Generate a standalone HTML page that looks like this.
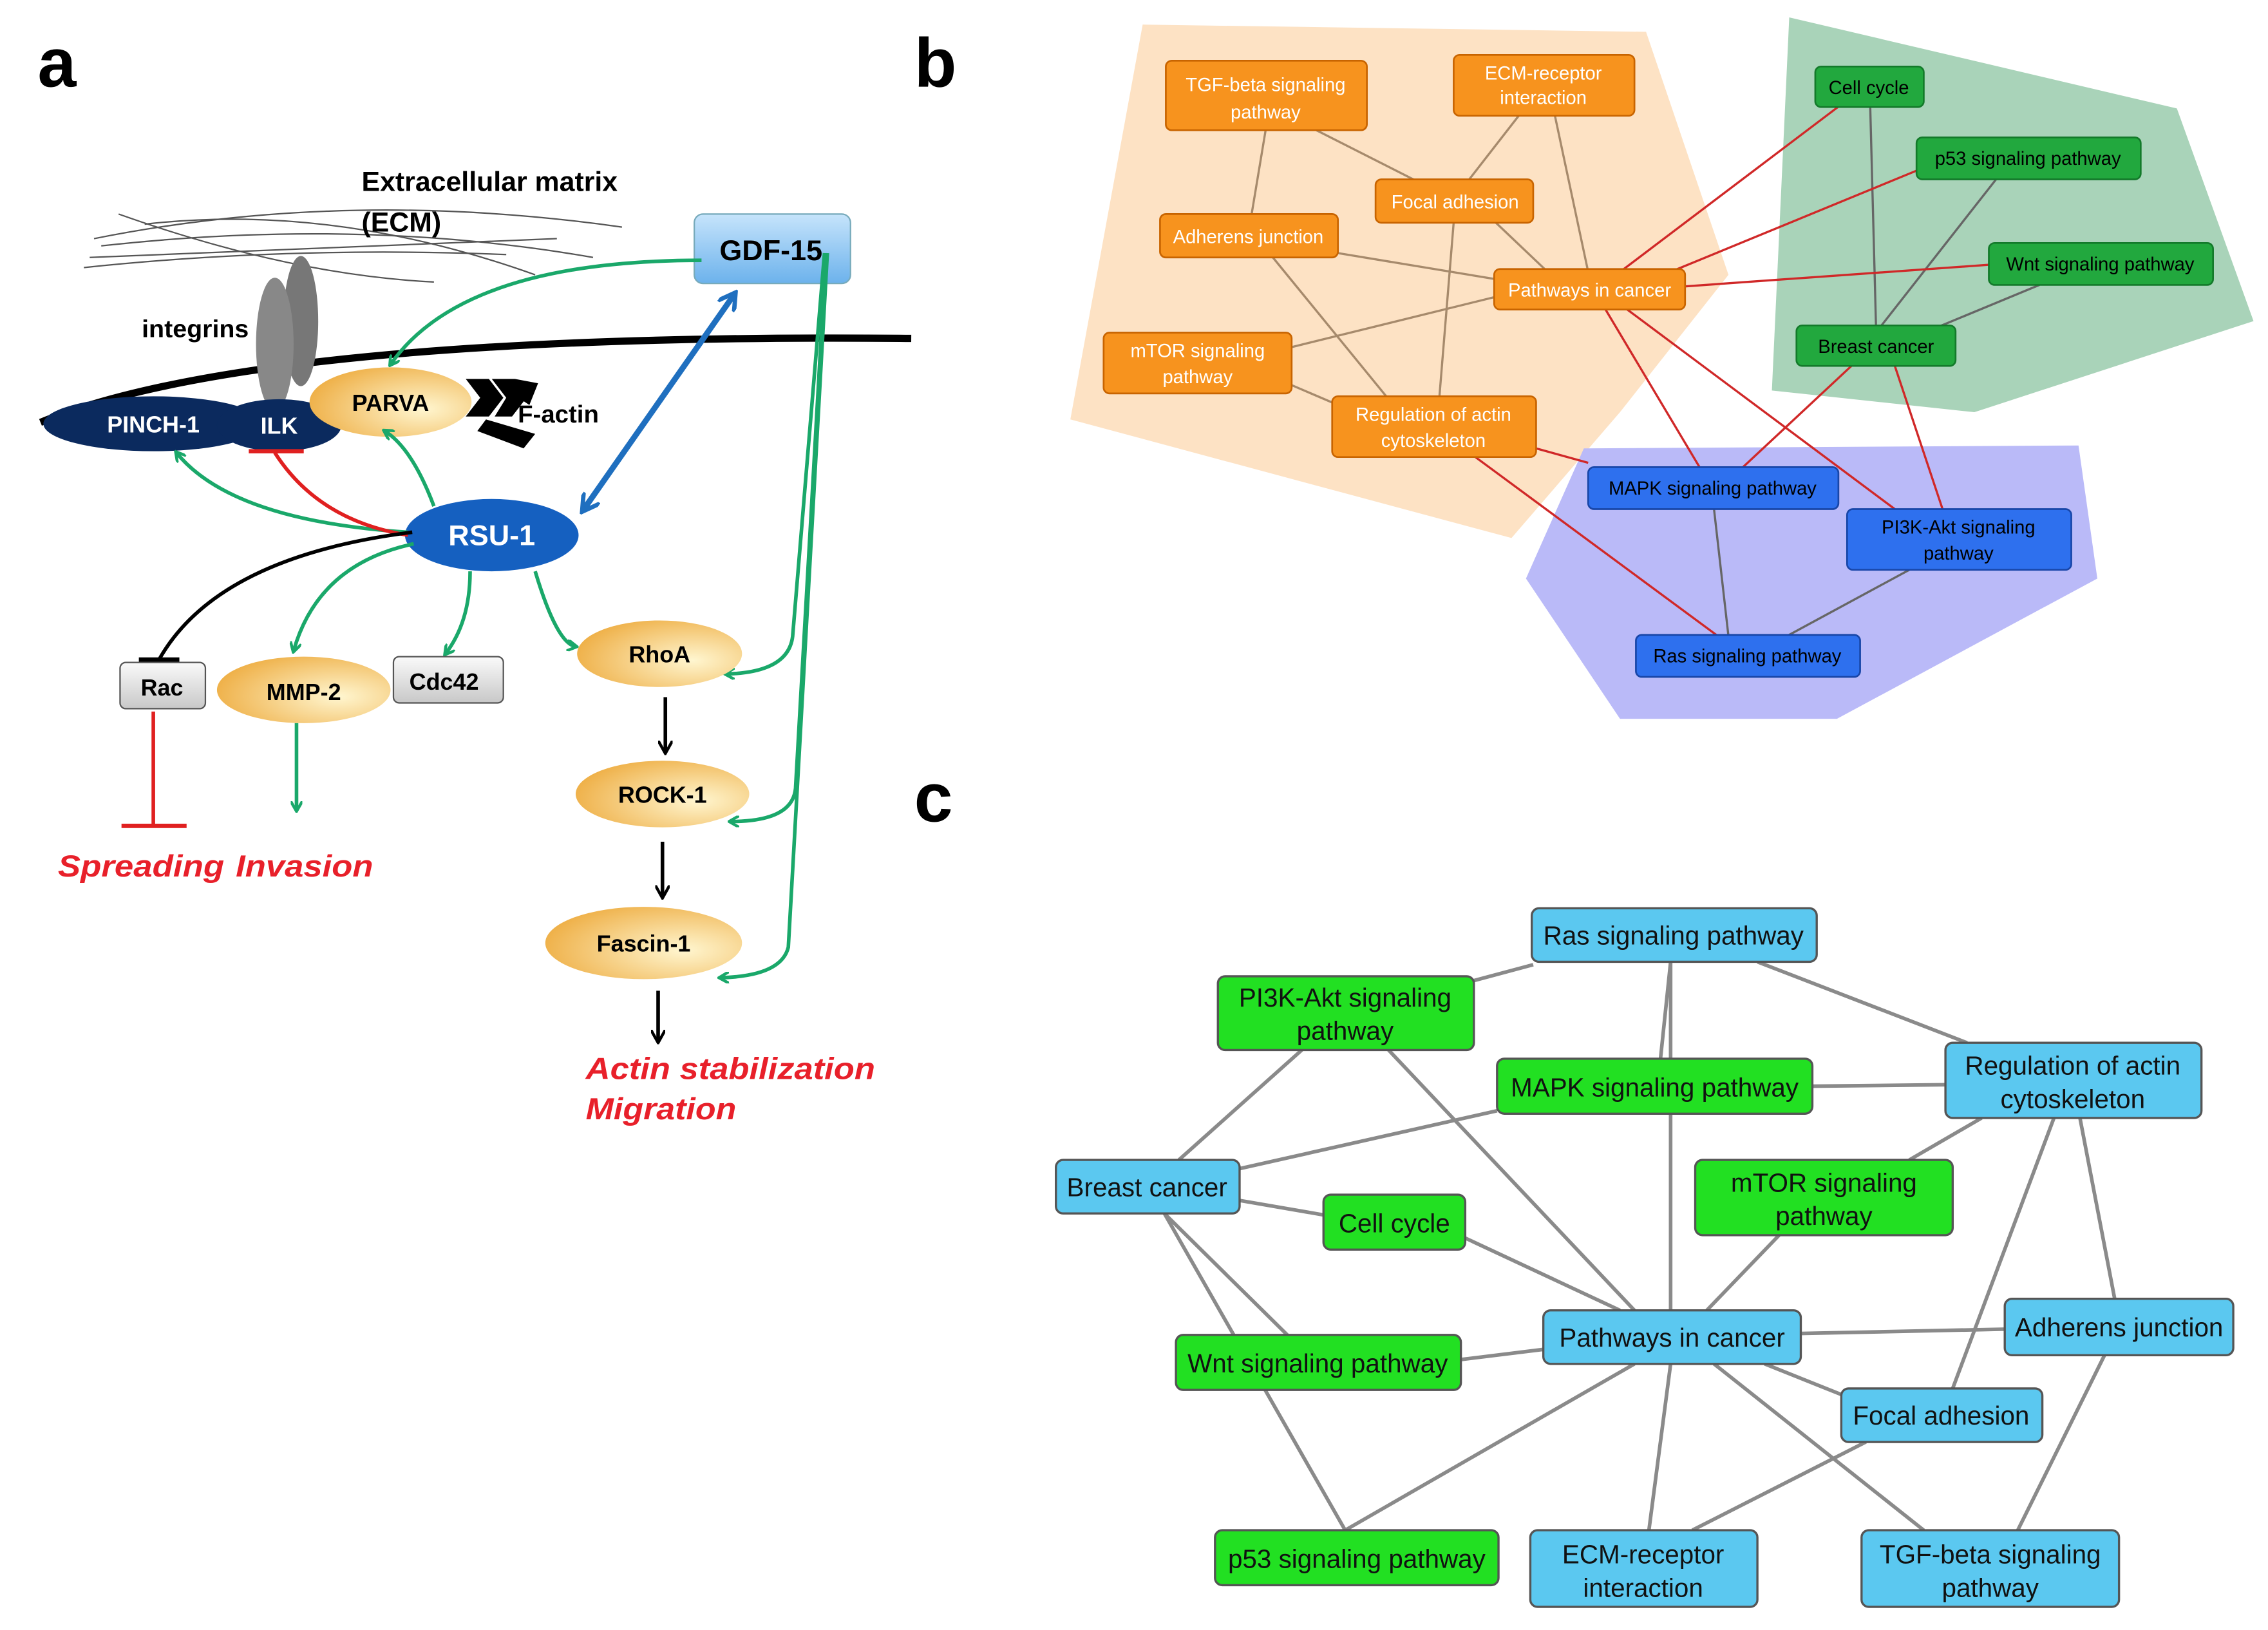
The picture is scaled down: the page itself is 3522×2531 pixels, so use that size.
<!DOCTYPE html>
<html><head><meta charset="utf-8"><style>
html,body{margin:0;padding:0;background:#fff;}
svg{display:block;}
text{font-family:"Liberation Sans",sans-serif;}
</style></head><body>
<svg width="3522" height="2531" viewBox="0 0 1568 1127" preserveAspectRatio="none" xmlns="http://www.w3.org/2000/svg">
<defs>
<marker id="ga" markerWidth="8" markerHeight="8" refX="6" refY="4" orient="auto" markerUnits="userSpaceOnUse"><path d="M0,0 L7,4 L0,8" fill="none" stroke="#1aa86a" stroke-width="2"/></marker>
<marker id="ka" markerWidth="10" markerHeight="10" refX="8" refY="5" orient="auto" markerUnits="userSpaceOnUse"><path d="M0,0 L9,5 L0,10" fill="none" stroke="#000" stroke-width="2"/></marker>
<marker id="ba" markerWidth="14" markerHeight="14" refX="11" refY="7" orient="auto-start-reverse" markerUnits="userSpaceOnUse"><path d="M0,0 L12,7 L0,14" fill="none" stroke="#1f6fbf" stroke-width="3"/></marker>
<radialGradient id="og" cx="0.7" cy="0.6" r="0.8"><stop offset="0" stop-color="#fff6d0"/><stop offset="1" stop-color="#eda93a"/></radialGradient>
<linearGradient id="gb" x1="0" y1="0" x2="0" y2="1"><stop offset="0" stop-color="#c6e4fb"/><stop offset="1" stop-color="#6cb2ec"/></linearGradient>
<linearGradient id="gg" x1="0" y1="0" x2="0" y2="1"><stop offset="0" stop-color="#fafafa"/><stop offset="1" stop-color="#c8c8c8"/></linearGradient>
</defs>

<!-- PANEL A -->
<text x="26" y="60" font-size="48" font-weight="bold">a</text>
<g stroke="#555" stroke-width="1" fill="none">
<path d="M65,165 Q240,130 430,157"/><path d="M70,170 Q250,150 410,178"/><path d="M58,185 Q200,170 350,176"/>
<path d="M82,148 Q200,190 300,195"/><path d="M100,155 Q230,140 370,190"/><path d="M62,178 L385,165"/>
</g>
<text x="250" y="132" font-size="19" font-weight="bold" textLength="177" lengthAdjust="spacingAndGlyphs">Extracellular matrix</text>
<text x="250" y="160" font-size="19" font-weight="bold" textLength="55" lengthAdjust="spacingAndGlyphs">(ECM)</text>
<path d="M28,292 Q180,230 630,234" fill="none" stroke="#000" stroke-width="5"/>
<ellipse cx="208" cy="222" rx="12" ry="45" fill="#777"/>
<ellipse cx="190" cy="238" rx="13" ry="46" fill="#888"/>
<text x="98" y="233" font-size="17" font-weight="bold" textLength="74" lengthAdjust="spacingAndGlyphs">integrins</text>
<ellipse cx="106" cy="293" rx="76" ry="19" fill="#0b2a5e"/>
<ellipse cx="193" cy="294" rx="43" ry="18" fill="#0b2a5e"/>
<text x="106" y="299" font-size="16" font-weight="bold" fill="#fff" text-anchor="middle">PINCH-1</text>
<text x="193" y="300" font-size="16" font-weight="bold" fill="#fff" text-anchor="middle">ILK</text>
<ellipse cx="270" cy="278" rx="56" ry="24" fill="url(#og)"/>
<text x="270" y="284" font-size="16" font-weight="bold" text-anchor="middle">PARVA</text>
<g fill="#000"><path d="M322,262 L338,262 L348,275 L338,288 L322,288 L332,275Z"/><path d="M340,262 L356,262 L364,275 L354,288 L342,288 L350,275Z"/><path d="M356,262 L372,265 L366,280 L360,276Z"/><path d="M336,290 L370,300 L362,310 L330,298Z"/></g>
<text x="358" y="292" font-size="17" font-weight="bold" textLength="56" lengthAdjust="spacingAndGlyphs">F-actin</text>
<rect x="480" y="148" width="108" height="48" rx="6" fill="url(#gb)" stroke="#7ab" stroke-width="1"/>
<text x="533" y="180" font-size="20" font-weight="bold" text-anchor="middle">GDF-15</text>
<ellipse cx="340" cy="370" rx="60" ry="25" fill="#1560c0"/>
<text x="340" y="377" font-size="20" font-weight="bold" fill="#fff" text-anchor="middle">RSU-1</text>
<line x1="508" y1="203" x2="403" y2="353" stroke="#1f6fbf" stroke-width="4" marker-start="url(#ba)" marker-end="url(#ba)"/>
<g fill="none" stroke="#1aa86a" stroke-width="2.5" marker-end="url(#ga)">
<path d="M485,180 Q320,180 270,252"/>
<path d="M570,175 L548,440 Q545,465 502,466"/>
<path d="M571,175 L550,545 Q548,568 505,568"/>
<path d="M572,175 L545,655 Q540,675 498,676"/>
<path d="M282,368 Q160,360 122,313"/>
<path d="M300,350 Q285,310 266,298"/>
<path d="M286,376 Q220,390 203,450"/>
<path d="M325,395 Q325,430 308,452"/>
<path d="M370,395 Q385,445 398,447"/>
<path d="M205,500 L205,560"/>
</g>
<path d="M282,370 Q220,360 190,313" fill="none" stroke="#e02020" stroke-width="2.5"/>
<line x1="172" y1="312" x2="210" y2="312" stroke="#e02020" stroke-width="3"/>
<path d="M285,368 Q150,385 110,456" fill="none" stroke="#000" stroke-width="2.5"/>
<line x1="96" y1="456" x2="124" y2="456" stroke="#000" stroke-width="3"/>
<rect x="83" y="458" width="59" height="32" rx="4" fill="url(#gg)" stroke="#555"/>
<text x="112" y="481" font-size="16" font-weight="bold" text-anchor="middle">Rac</text>
<ellipse cx="210" cy="477" rx="60" ry="23" fill="url(#og)"/>
<text x="210" y="484" font-size="16" font-weight="bold" text-anchor="middle">MMP-2</text>
<rect x="272" y="454" width="76" height="32" rx="4" fill="url(#gg)" stroke="#555"/>
<text x="307" y="477" font-size="16" font-weight="bold" text-anchor="middle">Cdc42</text>
<line x1="106" y1="492" x2="106" y2="570" stroke="#e02020" stroke-width="2.5"/>
<line x1="84" y1="571" x2="129" y2="571" stroke="#e02020" stroke-width="3"/>
<ellipse cx="456" cy="452" rx="57" ry="23" fill="url(#og)"/>
<text x="456" y="458" font-size="16" font-weight="bold" text-anchor="middle">RhoA</text>
<ellipse cx="458" cy="549" rx="60" ry="23" fill="url(#og)"/>
<text x="458" y="555" font-size="16" font-weight="bold" text-anchor="middle">ROCK-1</text>
<ellipse cx="445" cy="652" rx="68" ry="25" fill="url(#og)"/>
<text x="445" y="658" font-size="16" font-weight="bold" text-anchor="middle">Fascin-1</text>
<g stroke="#000" stroke-width="2.5" marker-end="url(#ka)"><line x1="460" y1="482" x2="460" y2="520"/><line x1="458" y1="582" x2="458" y2="620"/><line x1="455" y1="685" x2="455" y2="720"/></g>
<g font-size="21" font-weight="bold" font-style="italic" fill="#e8202a">
<text x="40" y="606" textLength="115" lengthAdjust="spacingAndGlyphs">Spreading</text>
<text x="163" y="606" textLength="95" lengthAdjust="spacingAndGlyphs">Invasion</text>
<text x="405" y="746" textLength="200" lengthAdjust="spacingAndGlyphs">Actin stabilization</text>
<text x="405" y="774" textLength="104" lengthAdjust="spacingAndGlyphs">Migration</text>
</g>

<!-- PANEL B -->
<text x="632" y="60" font-size="48" font-weight="bold">b</text>
<polygon points="790,17 1138,22 1195,190 1120,285 1045,372 740,290" fill="#fde2c4"/>
<polygon points="1237,12 1505,75 1558,222 1365,285 1225,270" fill="#a9d3b9"/>
<polygon points="1095,310 1437,308 1450,400 1270,497 1120,497 1055,400" fill="#babaf8"/>
<g stroke="#a68a6c" stroke-width="1.5">
<line x1="875" y1="90" x2="865" y2="150"/><line x1="910" y1="90" x2="985" y2="128"/><line x1="1050" y1="80" x2="1015" y2="125"/>
<line x1="1075" y1="80" x2="1098" y2="188"/><line x1="1030" y1="150" x2="1070" y2="188"/><line x1="1005" y1="154" x2="995" y2="276"/>
<line x1="925" y1="175" x2="1040" y2="194"/><line x1="880" y1="178" x2="960" y2="276"/><line x1="893" y1="240" x2="1035" y2="205"/><line x1="890" y1="265" x2="925" y2="280"/>
</g>
<g stroke="#666" stroke-width="1.5"><line x1="1293" y1="74" x2="1297" y2="226"/><line x1="1380" y1="124" x2="1300" y2="226"/><line x1="1410" y1="197" x2="1340" y2="226"/>
<line x1="1185" y1="352" x2="1195" y2="440"/><line x1="1320" y1="394" x2="1235" y2="440"/></g>
<g stroke="#d02828" stroke-width="1.5">
<line x1="1120" y1="188" x2="1272" y2="73"/><line x1="1150" y1="190" x2="1325" y2="118"/><line x1="1165" y1="198" x2="1376" y2="183"/>
<line x1="1110" y1="214" x2="1175" y2="323"/><line x1="1125" y1="214" x2="1310" y2="352"/><line x1="1280" y1="253" x2="1205" y2="323"/><line x1="1310" y1="253" x2="1343" y2="352"/>
<line x1="1062" y1="310" x2="1098" y2="320"/><line x1="1020" y1="316" x2="1188" y2="440"/>
</g>
<g stroke="#c86400" stroke-width="1.2" fill="#f7931e">
<rect x="806" y="42" width="139" height="48" rx="4"/><rect x="1005" y="38" width="125" height="42" rx="4"/><rect x="951" y="124" width="109" height="30" rx="4"/>
<rect x="802" y="148" width="123" height="30" rx="4"/><rect x="1033" y="186" width="132" height="28" rx="4"/><rect x="763" y="230" width="130" height="42" rx="4"/><rect x="921" y="274" width="141" height="42" rx="4"/>
</g>
<g stroke="#137a2a" stroke-width="1.2" fill="#22a83e">
<rect x="1255" y="46" width="75" height="28" rx="4"/><rect x="1325" y="95" width="155" height="29" rx="4"/><rect x="1375" y="168" width="155" height="29" rx="4"/><rect x="1242" y="225" width="110" height="28" rx="4"/>
</g>
<g stroke="#1846a8" stroke-width="1.2" fill="#2e70ee">
<rect x="1098" y="323" width="173" height="29" rx="4"/><rect x="1277" y="352" width="155" height="42" rx="4"/><rect x="1131" y="439" width="155" height="29" rx="4"/>
</g>
<g font-size="13" text-anchor="middle" fill="#fff">
<text x="875" y="63">TGF-beta signaling</text><text x="875" y="82">pathway</text>
<text x="1067" y="55">ECM-receptor</text><text x="1067" y="72">interaction</text>
<text x="1006" y="144">Focal adhesion</text><text x="863" y="168">Adherens junction</text>
<text x="1099" y="205">Pathways in cancer</text>
<text x="828" y="247">mTOR signaling</text><text x="828" y="265">pathway</text>
<text x="991" y="291">Regulation of actin</text><text x="991" y="309">cytoskeleton</text>
<text x="1292" y="65" fill="#000">Cell cycle</text><text x="1402" y="114" fill="#000">p53 signaling pathway</text>
<text x="1452" y="187" fill="#000">Wnt signaling pathway</text><text x="1297" y="244" fill="#000">Breast cancer</text>
<text x="1184" y="342" fill="#000">MAPK signaling pathway</text><text x="1354" y="369" fill="#000">PI3K-Akt signaling</text><text x="1354" y="387" fill="#000">pathway</text>
<text x="1208" y="458" fill="#000">Ras signaling pathway</text>
</g>

<!-- PANEL C -->
<text x="632" y="568" font-size="48" font-weight="bold">c</text>
<g stroke="#8a8a8a" stroke-width="2.5">
<line x1="1019" y1="678" x2="1060" y2="667"/><line x1="1155" y1="665" x2="1148" y2="732"/><line x1="1215" y1="665" x2="1360" y2="721"/>
<line x1="900" y1="726" x2="815" y2="802"/><line x1="960" y1="726" x2="1130" y2="906"/><line x1="857" y1="808" x2="1035" y2="768"/>
<line x1="1253" y1="751" x2="1345" y2="750"/><line x1="857" y1="830" x2="915" y2="840"/><line x1="805" y1="839" x2="890" y2="923"/>
<line x1="805" y1="839" x2="930" y2="1058"/><line x1="1013" y1="856" x2="1120" y2="906"/><line x1="1370" y1="773" x2="1320" y2="802"/>
<line x1="1438" y1="773" x2="1462" y2="898"/><line x1="1420" y1="773" x2="1350" y2="960"/><line x1="1230" y1="854" x2="1180" y2="906"/>
<line x1="1155" y1="665" x2="1155" y2="906"/><line x1="1010" y1="940" x2="1067" y2="933"/><line x1="1245" y1="922" x2="1386" y2="919"/>
<line x1="1220" y1="943" x2="1275" y2="965"/><line x1="1130" y1="943" x2="930" y2="1058"/><line x1="1155" y1="943" x2="1140" y2="1058"/>
<line x1="1185" y1="943" x2="1330" y2="1058"/><line x1="1455" y1="937" x2="1395" y2="1058"/><line x1="1290" y1="997" x2="1170" y2="1058"/>
</g>
<g stroke="#555" stroke-width="1.5">
<g fill="#5bc8f0">
<rect x="1059" y="628" width="197" height="37" rx="5"/><rect x="1345" y="721" width="177" height="52" rx="5"/><rect x="730" y="802" width="127" height="37" rx="5"/>
<rect x="1386" y="898" width="158" height="39" rx="5"/><rect x="1067" y="906" width="178" height="37" rx="5"/><rect x="1273" y="960" width="139" height="37" rx="5"/>
<rect x="1058" y="1058" width="157" height="53" rx="5"/><rect x="1287" y="1058" width="178" height="53" rx="5"/>
</g>
<g fill="#22e022">
<rect x="842" y="675" width="177" height="51" rx="5"/><rect x="1035" y="732" width="218" height="38" rx="5"/><rect x="915" y="826" width="98" height="38" rx="5"/>
<rect x="1172" y="802" width="178" height="52" rx="5"/><rect x="813" y="923" width="197" height="38" rx="5"/><rect x="840" y="1058" width="196" height="38" rx="5"/>
</g>
</g>
<g font-size="18" text-anchor="middle" fill="#111">
<text x="1157" y="653">Ras signaling pathway</text>
<text x="1433" y="743">Regulation of actin</text><text x="1433" y="766">cytoskeleton</text>
<text x="793" y="827">Breast cancer</text>
<text x="1465" y="924">Adherens junction</text>
<text x="1156" y="931">Pathways in cancer</text>
<text x="1342" y="985">Focal adhesion</text>
<text x="1136" y="1081">ECM-receptor</text><text x="1136" y="1104">interaction</text>
<text x="1376" y="1081">TGF-beta signaling</text><text x="1376" y="1104">pathway</text>
<text x="930" y="696">PI3K-Akt signaling</text><text x="930" y="719">pathway</text>
<text x="1144" y="758">MAPK signaling pathway</text>
<text x="964" y="852">Cell cycle</text>
<text x="1261" y="824">mTOR signaling</text><text x="1261" y="847">pathway</text>
<text x="911" y="949">Wnt signaling pathway</text>
<text x="938" y="1084">p53 signaling pathway</text>
</g>
</svg>
</body></html>
